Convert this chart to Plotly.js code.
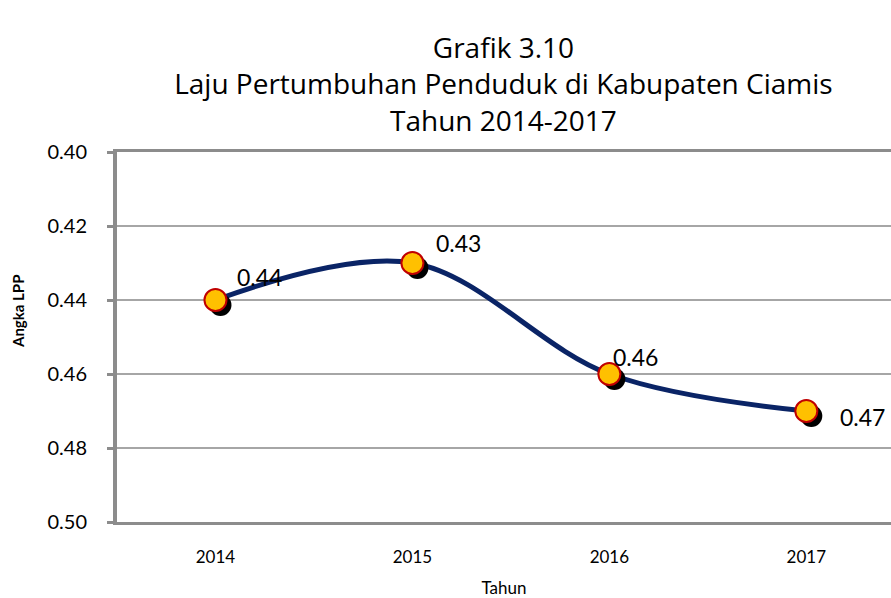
<!DOCTYPE html>
<html>
<head>
<meta charset="utf-8">
<script src="https://cdn.plot.ly/plotly-3.0.1.min.js"></script>
<style>html,body{margin:0;padding:0;background:#fff;}#chart{width:891px;height:598px;}</style>
</head>
<body>
<div id="chart"></div>
<script>
const years = ['2014', '2015', '2016', '2017'];
const lpp = [0.44, 0.43, 0.46, 0.47];
const labels = ['0.44', '0.43', '0.46', '0.47'];
const yTicks = [0.40, 0.42, 0.44, 0.46, 0.48, 0.50];
const yTickText = ['0.40', '0.42', '0.44', '0.46', '0.48', '0.50'];

const xIdx = years.map((_, i) => i);
const xRange = [-0.5, 3.43];
const yRange = [0.50, 0.40];
const plotL = 117, plotR = 891, plotT = 152, plotB = 522;
const pxPerX = (plotR - plotL) / (xRange[1] - xRange[0]);
const pxPerY = (plotB - plotT) / (yRange[0] - yRange[1]);
const sh = 5;
const dx = sh / pxPerX, dy = sh / pxPerY;

const font = 'Lato, "Open Sans", sans-serif';
const titleFont = '"Open Sans", Lato, sans-serif';
const labelShift = [[44, 23], [46, 20], [26, 17], [56, -6]];

const lineTrace = {
  x: xIdx, y: lpp, type: 'scatter', mode: 'lines',
  line: {shape: 'spline', smoothing: 1, color: '#0a2466', width: 5},
  xaxis: 'x', yaxis: 'y', hoverinfo: 'skip'
};
const shadowTrace = {
  x: xIdx, y: lpp, type: 'scatter', mode: 'markers',
  marker: {size: 22, color: '#000000'},
  xaxis: 'x2', yaxis: 'y2', hoverinfo: 'skip'
};
const markerTrace = {
  x: xIdx, y: lpp, type: 'scatter', mode: 'markers',
  marker: {size: 22, color: '#FFC000', line: {color: '#C00000', width: 2}},
  xaxis: 'x3', yaxis: 'y3'
};

const hiddenAx = (r) => ({range: r, overlaying: 'x', visible: false, fixedrange: true});

const annotations = lpp.map((v, i) => ({
  x: xIdx[i], y: v, xref: 'x', yref: 'y', text: labels[i], showarrow: false,
  xshift: labelShift[i][0], yshift: labelShift[i][1],
  font: {size: 23, family: font, color: '#000000'}
}));
annotations.push({
  xref: 'paper', yref: 'paper',
  x: (18 - plotL) / (plotR - plotL), y: (plotB - 312) / (plotB - plotT),
  xanchor: 'center', yanchor: 'middle', textangle: -90, showarrow: false,
  text: '<b>Angka LPP</b>', font: {size: 15, family: font, color: '#000000'}
});

const layout = {
  width: 891, height: 598,
  margin: {l: plotL, r: 891 - plotR, t: plotT, b: 598 - plotB},
  paper_bgcolor: '#ffffff', plot_bgcolor: '#ffffff',
  showlegend: false,
  font: {family: font, color: '#000000'},
  title: {
    text: 'Grafik 3.10<br>Laju Pertumbuhan Penduduk di Kabupaten Ciamis<br>Tahun 2014-2017',
    font: {family: titleFont, size: 28, color: '#000000'},
    x: 0.565, xanchor: 'center', y: 1 - 58 / 598, yanchor: 'middle'
  },
  xaxis: {
    range: xRange, tickvals: xIdx, ticktext: years,
    showgrid: false, zeroline: false,
    showline: true, linecolor: '#8c8c8c', linewidth: 3, mirror: true,
    ticks: '', tickfont: {size: 17, family: font}, ticklabelstandoff: 18,
    title: {text: 'Tahun', font: {size: 17, family: font}, standoff: 18},
    fixedrange: true
  },
  yaxis: {
    range: yRange, tickvals: yTicks, ticktext: yTickText,
    showgrid: true, gridcolor: '#a6a6a6', gridwidth: 2, zeroline: false,
    showline: true, linecolor: '#8c8c8c', linewidth: 4,
    ticks: 'outside', ticklen: 6, tickwidth: 3, tickcolor: '#8c8c8c',
    tickfont: {size: 20, family: font}, ticklabelstandoff: 16,
    fixedrange: true
  },
  xaxis2: hiddenAx([xRange[0] - dx, xRange[1] - dx]),
  yaxis2: {range: [yRange[0] - dy, yRange[1] - dy], overlaying: 'y', visible: false, fixedrange: true},
  xaxis3: hiddenAx(xRange),
  yaxis3: {range: yRange, overlaying: 'y', visible: false, fixedrange: true},
  annotations: annotations
};

Plotly.newPlot('chart', [lineTrace, shadowTrace, markerTrace], layout, {displayModeBar: false, staticPlot: true});
</script>
</body>
</html>
